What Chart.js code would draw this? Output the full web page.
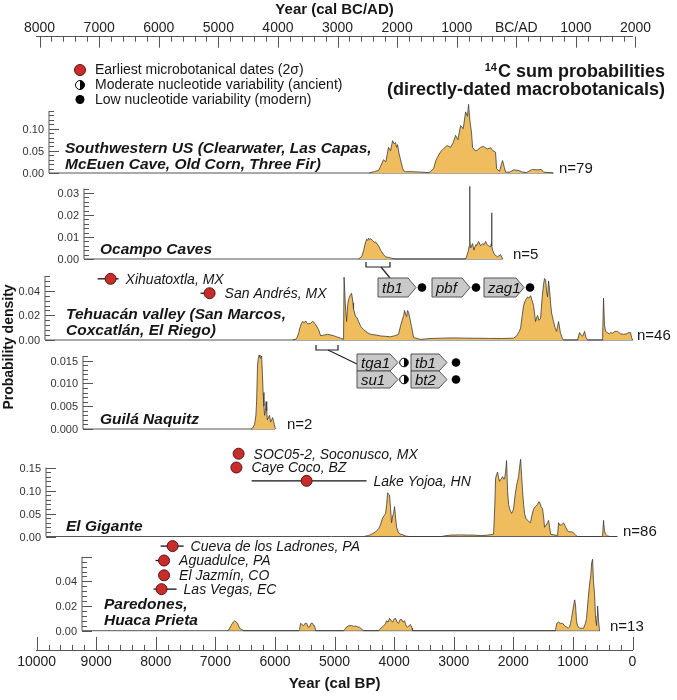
<!DOCTYPE html>
<html>
<head>
<meta charset="utf-8">
<script src="https://cdn.jsdelivr.net/npm/chart.js@4.4.1/dist/chart.umd.min.js"></script>
<style>
  html, body { margin: 0; padding: 0; background: #fff; }
  #wrap { position: relative; width: 677px; height: 700px; }
  #wrap canvas { position: absolute; left: 0; top: 0; }
</style>
</head>
<body>
<div id="wrap">
  <canvas id="axes" width="677" height="700"></canvas>
  <canvas id="p0" width="677" height="700"></canvas>
  <canvas id="p1" width="677" height="700"></canvas>
  <canvas id="p2" width="677" height="700"></canvas>
  <canvas id="p3" width="677" height="700"></canvas>
  <canvas id="p4" width="677" height="700"></canvas>
  <canvas id="p5" width="677" height="700"></canvas>
</div>
<script>
// ---- data (years cal BP, summed probability density) ----
const bpTicks = [0, 1000, 2000, 3000, 4000, 5000, 6000, 7000, 8000, 9000, 10000];
const calYearTicks = [-8000, -7000, -6000, -5000, -4000, -3000, -2000, -1000, 0, 1000, 2000];

// Southwestern US
const swBP = [4420, 4395, 4330, 4260, 4228, 4178, 4140, 4094, 4060, 4026, 4000, 3976, 3960, 3942, 3920, 3892, 3860, 3842, 3808, 3700, 3550, 3420, 3389, 3338, 3300, 3271, 3220, 3171, 3110, 3053, 3010, 2969, 2930, 2885, 2840, 2801, 2770, 2751, 2730, 2701, 2684, 2640, 2600, 2550, 2499, 2440, 2382, 2340, 2298, 2281, 2255, 2231, 2200, 2180, 2150, 2130, 2060, 1996, 1920, 1845, 1780, 1700, 1677, 1600, 1530, 1493, 1400, 1325];
const swDensity = [0, 0.001, 0.003, 0.006, 0.015, 0.03, 0.025, 0.058, 0.05, 0.073, 0.066, 0.069, 0.058, 0.064, 0.045, 0.03, 0.012, 0.005, 0.003, 0.003, 0.002, 0.001, 0.003, 0.01, 0.028, 0.036, 0.048, 0.055, 0.062, 0.058, 0.068, 0.085, 0.075, 0.107, 0.1, 0.138, 0.128, 0.155, 0.12, 0.09, 0.058, 0.05, 0.052, 0.058, 0.06, 0.054, 0.057, 0.05, 0.047, 0.01, 0.006, 0.004, 0.02, 0.028, 0.012, 0.002, 0.002, 0.007, 0.006, 0.002, 0.001, 0.007, 0.008, 0.007, 0.008, 0.002, 0.001, 0];

// Ocampo Caves
const ocBP = [4600, 4546, 4510, 4496, 4463, 4440, 4429, 4410, 4395, 4362, 4330, 4312, 4261, 4228, 4178, 4144, 4060, 4000, 2800, 2785, 2751, 2740, 2734, 2727, 2717, 2684, 2660, 2650, 2630, 2617, 2583, 2550, 2516, 2490, 2466, 2440, 2415, 2382, 2370, 2365, 2358, 2348, 2315, 2264, 2214, 2180];
const ocDensity = [0, 0.001, 0.004, 0.006, 0.009, 0.0085, 0.0095, 0.0088, 0.0092, 0.0085, 0.0075, 0.0078, 0.006, 0.004, 0.002, 0.001, 0.0005, 0, 0, 0.001, 0.004, 0.006, 0.033, 0.008, 0.005, 0.007, 0.004, 0.005, 0.0065, 0.006, 0.008, 0.006, 0.007, 0.0065, 0.008, 0.0065, 0.006, 0.0055, 0.007, 0.021, 0.006, 0.004, 0.002, 0.001, 0.002, 0];

// Tehuacan valley
const tvBP = [5700, 5637, 5600, 5587, 5560, 5537, 5510, 5486, 5450, 5402, 5370, 5352, 5310, 5268, 5234, 5180, 5117, 5060, 5016, 4960, 4899, 4849, 4840, 4820, 4798, 4780, 4765, 4740, 4714, 4690, 4681, 4647, 4620, 4597, 4560, 4513, 4450, 4395, 4300, 4228, 4150, 4060, 3990, 3926, 3890, 3859, 3840, 3825, 3808, 3791, 3775, 3758, 3730, 3708, 3674, 3557, 3400, 3200, 3000, 2800, 2600, 2400, 2200, 1996, 1950, 1929, 1900, 1878, 1850, 1828, 1800, 1761, 1740, 1711, 1690, 1660, 1640, 1627, 1610, 1593, 1570, 1543, 1515, 1493, 1476, 1459, 1442, 1425, 1409, 1390, 1375, 1358, 1325, 1300, 1274, 1258, 1241, 1210, 1174, 1157, 922, 900, 888, 860, 838, 820, 805, 780, 754, 510, 502, 486, 470, 452, 420, 390, 368, 330, 300, 251, 200, 150, 100, 60, 33, 15, 0];
const tvDensity = [0, 0.001, 0.006, 0.009, 0.013, 0.015, 0.014, 0.0155, 0.013, 0.0136, 0.015, 0.0148, 0.012, 0.0085, 0.0035, 0.004, 0.0046, 0.004, 0.0035, 0.0025, 0.0015, 0.0005, 0.051, 0.03, 0.015, 0.028, 0.033, 0.036, 0.038, 0.03, 0.025, 0.019, 0.018, 0.015, 0.011, 0.0085, 0.006, 0.0046, 0.004, 0.0033, 0.003, 0.0026, 0.0035, 0.0046, 0.012, 0.017, 0.02, 0.024, 0.021, 0.019, 0.024, 0.0225, 0.016, 0.011, 0.002, 0.0005, 0.0012, 0.0015, 0.0017, 0.0015, 0.0014, 0.0013, 0.0012, 0.0015, 0.003, 0.0046, 0.007, 0.0097, 0.02, 0.028, 0.032, 0.035, 0.034, 0.036, 0.033, 0.028, 0.02, 0.015, 0.018, 0.02, 0.016, 0.0175, 0.035, 0.045, 0.05, 0.049, 0.04, 0.035, 0.048, 0.04, 0.03, 0.022, 0.015, 0.01, 0.007, 0.011, 0.015, 0.006, 0.001, 0, 0, 0.004, 0.006, 0.004, 0.003, 0.005, 0.007, 0.002, 0, 0, 0.002, 0.034, 0.012, 0.007, 0.006, 0.005, 0.006, 0.0055, 0.007, 0.007, 0.005, 0.0046, 0.005, 0.006, 0.006, 0.002, 0];

// Guila Naquitz
const gnBP = [6400, 6375, 6342, 6320, 6308, 6292, 6280, 6265, 6252, 6241, 6232, 6224, 6210, 6199, 6185, 6174, 6160, 6149, 6138, 6128, 6110, 6091, 6074, 6055, 6040, 6025, 6012, 5990];
const gnDensity = [0, 0.0002, 0.001, 0.003, 0.006, 0.014, 0.0155, 0.0162, 0.0158, 0.0155, 0.0158, 0.016, 0.012, 0.008, 0.005, 0.003, 0.004, 0.006, 0.004, 0.002, 0.0025, 0.003, 0.0015, 0.002, 0.0025, 0.0018, 0.001, 0];

// El Gigante
const egBP = [4500, 4479, 4430, 4395, 4350, 4312, 4261, 4230, 4194, 4170, 4144, 4125, 4110, 4095, 4077, 4060, 4043, 4025, 4009, 3993, 3975, 3959, 3926, 3890, 3859, 3808, 3750, 3200, 3171, 3053, 2900, 2750, 2667, 2550, 2432, 2380, 2331, 2310, 2298, 2280, 2264, 2248, 2231, 2205, 2180, 2160, 2147, 2130, 2113, 2097, 2080, 2063, 2045, 2030, 2010, 1996, 1970, 1946, 1930, 1912, 1895, 1878, 1860, 1845, 1828, 1811, 1790, 1761, 1735, 1711, 1690, 1660, 1630, 1593, 1575, 1560, 1535, 1509, 1490, 1476, 1450, 1425, 1409, 1390, 1375, 1300, 1258, 1241, 1220, 1191, 1170, 1157, 1120, 1090, 1050, 1006, 970, 955, 922, 520, 502, 486, 470, 452, 418, 380, 251];
const egDensity = [0, 0.001, 0.002, 0.004, 0.007, 0.01, 0.017, 0.025, 0.04, 0.045, 0.05, 0.07, 0.095, 0.092, 0.09, 0.06, 0.03, 0.045, 0.05, 0.065, 0.04, 0.02, 0.008, 0.005, 0.004, 0.001, 0, 0, 0.001, 0.003, 0.0035, 0.003, 0.003, 0.002, 0.003, 0.004, 0.005, 0.07, 0.126, 0.135, 0.14, 0.128, 0.12, 0.125, 0.13, 0.125, 0.125, 0.14, 0.165, 0.1, 0.07, 0.06, 0.055, 0.05, 0.055, 0.06, 0.09, 0.11, 0.12, 0.13, 0.15, 0.168, 0.13, 0.1, 0.07, 0.05, 0.04, 0.035, 0.032, 0.03, 0.045, 0.06, 0.065, 0.07, 0.075, 0.075, 0.065, 0.06, 0.04, 0.02, 0.025, 0.03, 0.035, 0.02, 0.005, 0.003, 0.002, 0.03, 0.025, 0.025, 0.028, 0.03, 0.02, 0.012, 0.01, 0.01, 0.005, 0.003, 0, 0, 0.002, 0.035, 0.012, 0.005, 0.001, 0, 0];

// Paredones, Huaca Prieta
const phBP = [6800, 6778, 6750, 6728, 6700, 6678, 6650, 6627, 6594, 6560, 6527, 5600, 5587, 5570, 5545, 5520, 5495, 5469, 5445, 5419, 5395, 5369, 5350, 5335, 5318, 4850, 4832, 4798, 4760, 4714, 4680, 4647, 4610, 4580, 4540, 4513, 4260, 4245, 4178, 4150, 4127, 4100, 4077, 4050, 4026, 4000, 3976, 3950, 3926, 3900, 3875, 3850, 3825, 3800, 3775, 3750, 3724, 3700, 3691, 1300, 1291, 1270, 1241, 1210, 1174, 1140, 1107, 1080, 1056, 1040, 1023, 990, 970, 955, 940, 922, 888, 850, 821, 790, 771, 745, 720, 700, 685, 670, 655, 637, 620, 603, 595, 586, 570, 553];
const phDensity = [0, 0.0005, 0.003, 0.005, 0.007, 0.008, 0.007, 0.006, 0.002, 0.001, 0, 0, 0.001, 0.006, 0.005, 0.004, 0.006, 0.006, 0.003, 0.003, 0.006, 0.006, 0.004, 0.004, 0, 0, 0.001, 0.003, 0.004, 0.0042, 0.0035, 0.0038, 0.003, 0.0028, 0.001, 0, 0, 0.001, 0.004, 0.005, 0.008, 0.007, 0.01, 0.008, 0.007, 0.0095, 0.01, 0.007, 0.006, 0.009, 0.009, 0.007, 0.008, 0.004, 0.003, 0.004, 0.005, 0.002, 0, 0, 0.001, 0.006, 0.007, 0.006, 0.006, 0.004, 0.003, 0.002, 0.003, 0.006, 0.01, 0.02, 0.025, 0.02, 0.008, 0.004, 0.002, 0.002, 0.002, 0.006, 0.01, 0.025, 0.038, 0.045, 0.055, 0.058, 0.04, 0.03, 0.01, 0.004, 0.012, 0.02, 0.008, 0];

// earliest microbotanical dates (2 sigma), years cal BP
const microSite = ['Xihuatoxtla, MX', 'San Andrés, MX', 'SOC05-2, Soconusco, MX', 'Caye Coco, BZ', 'Lake Yojoa, HN', 'Cueva de los Ladrones, PA', 'Aguadulce, PA', 'El Jazmín, CO', 'Las Vegas, EC'];
const microPanel = [2, 2, 4, 4, 4, 5, 5, 5, 5];
const microBP = [8758, 7097, 6610, 6647, 5469, 7718, 7861, 7861, 7903];
const microOld = [8976, 7248, 6670, 6680, 6392, 7919, 8003, 7953, 8037];
const microYoung = [8624, 7030, 6527, 6620, 4463, 7533, 7818, 7802, 7651];
const microLevel = [0.0497, 0.038, 0.18, 0.15, 0.121, 0.0686, 0.0569, 0.0449, 0.0337];

// genes sequenced from dated specimens
const genesOcampo = ['tb1', 'pbf', 'zag1'];
const genesOcampoVar = ['low', 'low', 'low'];
const genesTehuacan = [['tga1', 'tb1'], ['su1', 'bt2']];
const genesTehuacanVar = [['moderate', 'low'], ['moderate', 'low']];

// ---- styling ----
const FONT = '"Liberation Sans", Arial, Helvetica, sans-serif';
const AREA_FILL = '#F0BD5E';
const AREA_EDGE = '#3a3a3a';
const AXIS_GREY = '#555555';
const TEXT = '#161616';
const DOT_RED = '#C62D2B';
const DOT_EDGE = '#5a1414';
Chart.defaults.font.family = FONT;
Chart.defaults.color = TEXT;

// panel layout in page pixels; scaleMax leaves room for the date markers
const panels = [
  { bp: swBP, dens: swDensity, n: 'n=79', max: 0.14, scaleMax: 0.14, major: 0.05, minor: 0.01, dec: 2, lastLabel: 0.10,
    top: 111, base: 173, axisX: 49, endX: 553, nX: 559, nY: 169,
    name: ['Southwestern US (Clearwater, Las Capas,', 'McEuen Cave, Old Corn, Three Fir)'], nameX: 65, nameY: 149 },
  { bp: ocBP, dens: ocDensity, n: 'n=5', max: 0.032, scaleMax: 0.032, major: 0.01, minor: 0.002, dec: 2, lastLabel: 0.03,
    top: 188.6, base: 259, axisX: 84, endX: 503, nX: 513, nY: 255,
    name: ['Ocampo Caves'], nameX: 100, nameY: 250 },
  { bp: tvBP, dens: tvDensity, n: 'n=46', max: 0.052, scaleMax: 0.06, major: 0.02, minor: 0.004, dec: 2, lastLabel: 0.04,
    top: 276, base: 340, axisX: 45, endX: 633, nX: 637, nY: 336,
    name: ['Tehuacán valley (San Marcos,', 'Coxcatlán, El Riego)'], nameX: 66, nameY: 315 },
  { bp: gnBP, dens: gnDensity, n: 'n=2', max: 0.016, scaleMax: 0.016, major: 0.005, minor: 0.001, dec: 3, lastLabel: 0.015,
    top: 356, base: 429, axisX: 83, endX: 275, nX: 287, nY: 425,
    name: ['Guilá Naquitz'], nameX: 100, nameY: 420 },
  { bp: egBP, dens: egDensity, n: 'n=86', max: 0.15, scaleMax: 0.2, major: 0.05, minor: 0.01, dec: 2, lastLabel: 0.15,
    top: 467.5, base: 536.5, axisX: 46, endX: 617, nX: 623, nY: 532,
    name: ['El Gigante'], nameX: 66, nameY: 527 },
  { bp: phBP, dens: phDensity, n: 'n=13', max: 0.06, scaleMax: 0.075, major: 0.02, minor: 0.004, dec: 2, lastLabel: 0.04,
    top: 556.7, base: 630.7, axisX: 82, endX: 600, nX: 610, nY: 627,
    name: ['Paredones,', 'Huaca Prieta'], nameX: 104, nameY: 605 }
];

function seg(ctx, x1, y1, x2, y2) {
  ctx.beginPath(); ctx.moveTo(x1, y1); ctx.lineTo(x2, y2); ctx.stroke();
}

function marker(ctx, x, y, r, kind) {
  ctx.save();
  ctx.lineWidth = 1; ctx.strokeStyle = '#000';
  if (kind === 'red') {
    ctx.beginPath(); ctx.arc(x, y, r, 0, Math.PI * 2);
    ctx.fillStyle = DOT_RED; ctx.fill(); ctx.strokeStyle = DOT_EDGE; ctx.stroke();
  } else if (kind === 'low') {
    ctx.beginPath(); ctx.arc(x, y, r, 0, Math.PI * 2);
    ctx.fillStyle = '#000'; ctx.fill();
  } else {
    ctx.beginPath(); ctx.arc(x, y, r, 0, Math.PI * 2);
    ctx.fillStyle = '#fff'; ctx.fill(); ctx.stroke();
    ctx.beginPath(); ctx.arc(x, y, r, -Math.PI / 2, Math.PI / 2); ctx.closePath();
    ctx.fillStyle = '#000'; ctx.fill();
  }
  ctx.restore();
}

function gene(ctx, x, y, w, h, label) {
  const tip = 8;
  ctx.beginPath();
  ctx.moveTo(x, y); ctx.lineTo(x + w - tip, y); ctx.lineTo(x + w, y + h / 2);
  ctx.lineTo(x + w - tip, y + h); ctx.lineTo(x, y + h); ctx.closePath();
  ctx.fillStyle = '#C9C9C9'; ctx.fill();
  ctx.strokeStyle = '#555'; ctx.lineWidth = 1; ctx.stroke();
  ctx.fillStyle = '#111'; ctx.font = 'italic 15px ' + FONT;
  ctx.textAlign = 'left'; ctx.textBaseline = 'middle';
  ctx.fillText(label, x + 4, y + h / 2 + 1);
}

function bracket(ctx, x1, x2, y, from, to) {
  ctx.strokeStyle = '#222'; ctx.lineWidth = 1.2;
  ctx.beginPath();
  ctx.moveTo(x1, y - 5); ctx.lineTo(x1, y); ctx.lineTo(x2, y); ctx.lineTo(x2, y - 5);
  ctx.stroke();
  seg(ctx, from[0], from[1], to[0], to[1]);
}

// gene boxes sit over the Tehuacan panel
function drawGenes(ctx) {
  ctx.save();
  bracket(ctx, 366, 390, 267, [381, 267], [390, 278]);
  const rowX = [378, 432, 484], rowW = [38, 38, 40];
  genesOcampo.forEach((g, i) => {
    gene(ctx, rowX[i], 278, rowW[i], 19, g);
    marker(ctx, rowX[i] + rowW[i] + 6, 287.5, 4.3, genesOcampoVar[i]);
  });
  bracket(ctx, 316, 338, 350, [328, 350], [357, 364]);
  const colX = [357, 411], colW = [41, 36];
  genesTehuacan.forEach((row, r) => {
    row.forEach((g, c) => {
      const y = 354 + r * 17;
      gene(ctx, colX[c], y, colW[c], 17, g);
      marker(ctx, colX[c] + colW[c] + (c === 0 ? 6 : 9), y + 8.5, 4.3, genesTehuacanVar[r][c]);
    });
  });
  ctx.restore();
}

function panelDecor(p, idx) {
  return {
    id: 'panelDecor' + idx,
    beforeDatasetsDraw(chart) {
      const ctx = chart.ctx, ys = chart.scales.y, xs = chart.scales.x;
      const y0 = ys.getPixelForValue(0);
      ctx.save();
      ctx.strokeStyle = AXIS_GREY; ctx.lineWidth = 1;
      seg(ctx, p.axisX, y0, p.endX, y0);
      seg(ctx, p.axisX, y0, p.axisX, ys.getPixelForValue(p.max));
      ctx.font = '11px ' + FONT; ctx.fillStyle = '#333';
      ctx.textAlign = 'right'; ctx.textBaseline = 'middle';
      const steps = Math.round(p.max / p.minor);
      for (let i = 0; i <= steps; i++) {
        const v = i * p.minor;
        const py = Math.round(ys.getPixelForValue(v)) + 0.5;
        const r = v / p.major;
        const isMajor = Math.abs(r - Math.round(r)) < 1e-6;
        seg(ctx, p.axisX, py, p.axisX + (isMajor ? 10 : 5), py);
        if (isMajor && v <= p.lastLabel + 1e-9) ctx.fillText(v.toFixed(p.dec), p.axisX - 5, py);
      }
      ctx.strokeStyle = '#111'; ctx.lineWidth = 1.3;
      microSite.forEach((s, i) => {
        if (microPanel[i] !== idx) return;
        const py = ys.getPixelForValue(microLevel[i]);
        seg(ctx, xs.getPixelForValue(microOld[i]), py, xs.getPixelForValue(microYoung[i]), py);
      });
      ctx.restore();
    },
    afterDatasetsDraw(chart) {
      const ctx = chart.ctx, ys = chart.scales.y, xs = chart.scales.x;
      ctx.save();
      ctx.fillStyle = TEXT; ctx.textAlign = 'left'; ctx.textBaseline = 'middle';
      ctx.font = 'italic bold 15.5px ' + FONT;
      p.name.forEach((t, k) => ctx.fillText(t, p.nameX, p.nameY + k * 16));
      ctx.font = '15px ' + FONT;
      ctx.fillText(p.n, p.nX, p.nY);
      ctx.font = 'italic 14px ' + FONT;
      microSite.forEach((s, i) => {
        if (microPanel[i] !== idx) return;
        const px = Math.max(xs.getPixelForValue(microYoung[i]), xs.getPixelForValue(microBP[i]) + 8) + 7;
        ctx.fillText(s, px, ys.getPixelForValue(microLevel[i]) + 1);
      });
      if (idx === 2) drawGenes(ctx);
      ctx.restore();
    }
  };
}

panels.forEach((p, idx) => {
  const datasets = [];
  const dots = [];
  microSite.forEach((s, i) => {
    if (microPanel[i] === idx) dots.push({ x: microBP[i], y: microLevel[i] });
  });
  if (dots.length) {
    datasets.push({
      type: 'scatter', data: dots, pointRadius: 5.5, pointBackgroundColor: DOT_RED,
      pointBorderColor: DOT_EDGE, pointBorderWidth: 1, clip: false
    });
  }
  datasets.push({
    type: 'line',
    data: p.bp.map((b, i) => ({ x: b, y: p.dens[i] })),
    fill: 'origin', backgroundColor: AREA_FILL, borderColor: AREA_EDGE,
    borderWidth: 0.8, pointRadius: 0, tension: 0, clip: false
  });
  const pxPerUnit = (p.base - p.top) / p.max;
  new Chart(document.getElementById('p' + idx), {
    type: 'line',
    data: { datasets },
    options: {
      responsive: false, animation: false, events: [],
      layout: { padding: { left: 36.6, right: 44.5, top: p.base - pxPerUnit * p.scaleMax, bottom: 700 - p.base } },
      scales: {
        x: { type: 'linear', min: 0, max: 10000, reverse: true, display: false },
        y: { type: 'linear', min: 0, max: p.scaleMax, display: false }
      },
      plugins: { legend: { display: false }, tooltip: { enabled: false } }
    },
    plugins: [panelDecor(p, idx)]
  });
});

// shared time axes, legend and titles
const axesDecor = {
  id: 'axesDecor',
  afterDraw(chart) {
    const ctx = chart.ctx, xb = chart.scales.x, xt = chart.scales.xTop;
    ctx.save();
    ctx.strokeStyle = AXIS_GREY; ctx.lineWidth = 1;
    for (let v = 0; v <= 10000; v += 200) {
      const px = Math.round(xb.getPixelForValue(v)) + 0.5;
      seg(ctx, px, xb.top, px, xb.top - (v % 1000 === 0 ? 13 : 5));
    }
    for (let v = -8000; v <= 2000; v += 200) {
      const px = Math.round(xt.getPixelForValue(v)) + 0.5;
      seg(ctx, px, xt.bottom, px, xt.bottom + (v % 1000 === 0 ? 11 : 5));
    }
    // legend
    marker(ctx, 80, 70, 5.5, 'red');
    marker(ctx, 80, 85, 4.5, 'moderate');
    marker(ctx, 80, 99.5, 4.5, 'low');
    ctx.fillStyle = TEXT; ctx.textAlign = 'left'; ctx.textBaseline = 'middle';
    ctx.font = '14px ' + FONT;
    ctx.fillText('Earliest microbotanical dates (2σ)', 95, 70.5);
    ctx.fillText('Moderate nucleotide variability (ancient)', 95, 85.5);
    ctx.fillText('Low nucleotide variability (modern)', 95, 100);
    // title
    ctx.textAlign = 'right';
    ctx.font = 'bold 18px ' + FONT;
    ctx.fillText('(directly-dated macrobotanicals)', 665, 90.5);
    const main = 'C sum probabilities';
    ctx.fillText(main, 665, 72);
    const w = ctx.measureText(main).width;
    ctx.font = 'bold 11px ' + FONT;
    ctx.fillText('14', 665 - w - 1, 67.5);
    // y title
    ctx.translate(9, 347);
    ctx.rotate(-Math.PI / 2);
    ctx.textAlign = 'center';
    ctx.font = 'bold 14px ' + FONT;
    ctx.fillText('Probability density', 0, 0);
    ctx.restore();
  }
};

new Chart(document.getElementById('axes'), {
  type: 'line',
  data: { datasets: [] },
  options: {
    responsive: false, animation: false, events: [],
    layout: { padding: { left: 36.6, right: 44.5, top: 0, bottom: 7.3 } },
    scales: {
      x: {
        type: 'linear', position: 'bottom', min: 0, max: 10000, reverse: true,
        afterBuildTicks: s => { s.ticks = bpTicks.map(v => ({ value: v })); },
        ticks: { autoSkip: false, maxRotation: 0, padding: 5, color: '#222',
          font: { size: 14, lineHeight: 1.05 }, callback: v => String(v) },
        grid: { display: false, drawTicks: false },
        border: { display: true, color: AXIS_GREY, width: 1 },
        title: { display: true, text: 'Year (cal BP)', color: TEXT,
          font: { size: 15, weight: 'bold' }, padding: { top: 0, bottom: 0 } }
      },
      xTop: {
        type: 'linear', position: 'top', min: -8050, max: 1950,
        afterBuildTicks: s => { s.ticks = calYearTicks.map(v => ({ value: v })); },
        ticks: { autoSkip: false, maxRotation: 0, padding: 1, color: '#222',
          font: { size: 14, lineHeight: 1.05 },
          callback: v => (v === 0 ? 'BC/AD' : String(Math.abs(v))) },
        grid: { display: false, drawTicks: false },
        border: { display: true, color: AXIS_GREY, width: 1 },
        title: { display: true, text: 'Year (cal BC/AD)', color: TEXT,
          font: { size: 15, weight: 'bold' }, padding: { top: 1, bottom: 1 } }
      },
      y: { display: false }
    },
    plugins: { legend: { display: false }, tooltip: { enabled: false } }
  },
  plugins: [axesDecor]
});
</script>
</body>
</html>
